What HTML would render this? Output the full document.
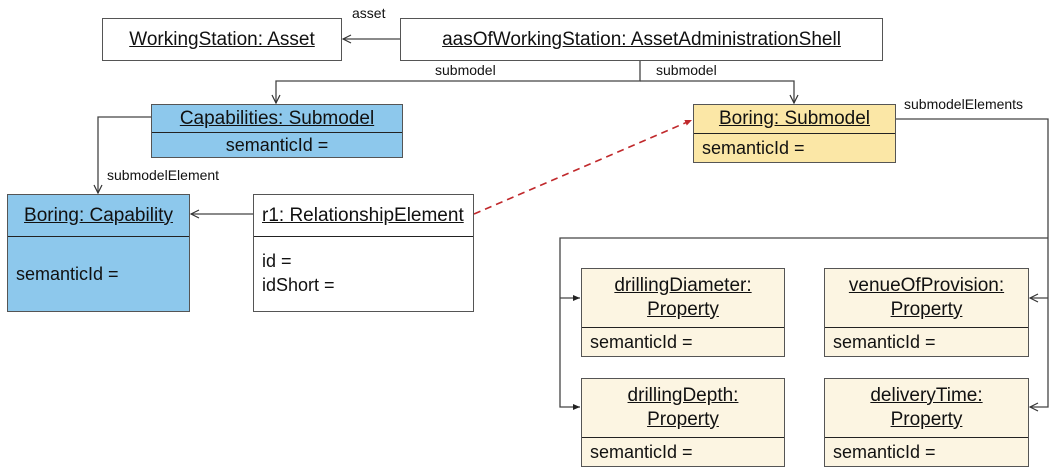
<!DOCTYPE html>
<html><head><meta charset="utf-8"><style>
body{margin:0;width:1055px;height:472px;background:#fff;position:relative;overflow:hidden;font-family:"Liberation Sans",sans-serif;}
.b{position:absolute;border:1.5px solid #555;box-sizing:border-box;}
.h{position:absolute;left:0;right:0;top:0;display:flex;align-items:center;justify-content:center;text-align:center;text-decoration:underline;font-size:19px;color:#111;line-height:24px;border-bottom:1.5px solid #222;box-sizing:border-box;}
.a{position:absolute;left:0;right:0;bottom:0;font-size:18px;color:#111;padding-left:8px;display:flex;align-items:center;}
.l{position:absolute;font-size:14px;color:#111;}
.blue{background:#8dc8ec}.yel{background:#fbe7a6}.cre{background:#fcf5e2}
svg{position:absolute;left:0;top:0}
</style></head><body>
<svg width="1055" height="472">
<defs>
<marker id="o" markerWidth="10" markerHeight="10" refX="9" refY="5" orient="auto" markerUnits="userSpaceOnUse"><path d="M1,1 L9,5 L1,9" fill="none" stroke="#333" stroke-width="1.2"/></marker>
<marker id="f" markerWidth="8" markerHeight="8" refX="7" refY="4" orient="auto" markerUnits="userSpaceOnUse"><path d="M0,1 L7,4 L0,7z" fill="#222"/></marker>
<marker id="r" markerWidth="8" markerHeight="8" refX="7" refY="4" orient="auto" markerUnits="userSpaceOnUse"><path d="M0,1 L7,4 L0,7z" fill="#c0282b"/></marker>
</defs>
<g stroke="#444" stroke-width="1.3" fill="none">
<path d="M400,39 H343" marker-end="url(#o)"/>
<path d="M640,60 V81 H276 V103" marker-end="url(#o)"/>
<path d="M640,81 H794 V103" marker-end="url(#o)"/>
<path d="M151,117 H98 V193" marker-end="url(#o)"/>
<path d="M253,214 H191" marker-end="url(#o)"/>
<path d="M895,119 H1048 V407 H1030" marker-end="url(#o)"/>
<path d="M1048,298 H1030" marker-end="url(#o)"/>
<path d="M1048,238 H560 V407 H580" marker-end="url(#f)"/>
<path d="M560,298 H580" marker-end="url(#f)"/>
</g>
<path d="M474,214 L692,120" stroke="#c0282b" stroke-width="1.6" stroke-dasharray="7,5" fill="none" marker-end="url(#r)"/>
</svg>
<div class="l" style="left:352px;top:5px">asset</div>
<div class="l" style="left:435px;top:62px">submodel</div>
<div class="l" style="left:656px;top:62px">submodel</div>
<div class="l" style="left:107px;top:167px">submodelElement</div>
<div class="l" style="left:904px;top:96px">submodelElements</div>

<div class="b" style="left:102px;top:18px;width:240px;height:43px"><div class="h" style="height:100%;border:none">WorkingStation: Asset</div></div>
<div class="b" style="left:400px;top:18px;width:483px;height:43px"><div class="h" style="height:100%;border:none">aasOfWorkingStation: AssetAdministrationShell</div></div>

<div class="b blue" style="left:151px;top:104px;width:252px;height:54px"><div class="h" style="height:28px">Capabilities: Submodel</div><div class="a" style="top:28px;justify-content:center;padding:0">semanticId =</div></div>
<div class="b yel" style="left:693px;top:104px;width:203px;height:59px"><div class="h" style="height:29px">Boring: Submodel</div><div class="a" style="top:29px">semanticId =</div></div>

<div class="b blue" style="left:7px;top:194px;width:183px;height:118px"><div class="h" style="height:42px">Boring: Capability</div><div class="a" style="top:42px">semanticId =</div></div>
<div class="b" style="left:253px;top:194px;width:221px;height:118px;background:#fff"><div class="h" style="height:42px;justify-content:flex-start;padding-left:8px">r1: RelationshipElement</div><div class="a" style="top:42px;line-height:24px;display:block;padding-top:12px">id =<br>idShort =</div></div>

<div class="b cre" style="left:581px;top:268px;width:204px;height:89px"><div class="h" style="height:59px">drillingDiameter:<br>Property</div><div class="a" style="top:59px">semanticId =</div></div>
<div class="b cre" style="left:824px;top:268px;width:205px;height:89px"><div class="h" style="height:59px">venueOfProvision:<br>Property</div><div class="a" style="top:59px">semanticId =</div></div>
<div class="b cre" style="left:581px;top:378px;width:204px;height:89px"><div class="h" style="height:59px">drillingDepth:<br>Property</div><div class="a" style="top:59px">semanticId =</div></div>
<div class="b cre" style="left:824px;top:378px;width:205px;height:89px"><div class="h" style="height:59px">deliveryTime:<br>Property</div><div class="a" style="top:59px">semanticId =</div></div>
</body></html>
